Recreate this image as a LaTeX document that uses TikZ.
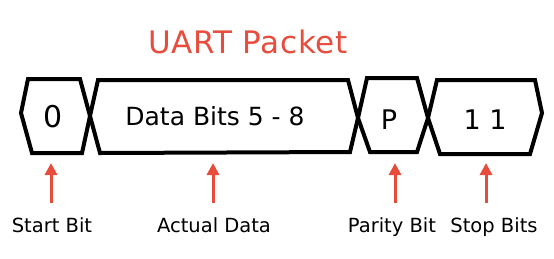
\documentclass[tikz,border=0pt]{standalone}
\usepackage{fontspec}
\setmainfont{DejaVu Sans}
\newfontfamily\titlefont[LetterSpace=2.3]{DejaVu Sans}
\usetikzlibrary{arrows.meta,positioning}
\definecolor{packetred}{RGB}{231,76,60}

\begin{document}
\begin{tikzpicture}[x=1pt,y=-1pt,
    frame/.style={line width=4pt,black},
    pointer/.style={packetred,line width=3pt,-{Triangle[width=12pt,length=12pt]},shorten <=14pt},
    bitlabel/.style={font=\fontsize{19.5}{23}\selectfont,inner sep=0pt,anchor=base}]
    \useasboundingbox (0,0) rectangle (554,258);
    % title
    \node[packetred,font=\titlefont\fontsize{31}{36}\selectfont,inner sep=0pt] (title) at (248,42) {UART Packet};
    % frames of the packet
    \draw[frame] (28,79) -- (80,79) -- (90,116) -- (82,153) -- (32,153) -- (21,113) -- cycle;
    \draw[frame] (98,80) -- (348,80) -- (358,118) -- (350,152) -- (100,153) -- (90,116) -- cycle;
    \draw[frame] (367,78) -- (417,78) -- (428,118) -- (417,152) -- (370,152) -- (358,118) -- cycle;
    \draw[frame] (437,80) -- (535,80) -- (542,113) -- (530,154) -- (440,154) -- (428,118) -- cycle;
    % values in the frames
    \node[inner sep=0pt,font=\fontsize{30}{36}\selectfont] (startval) at (53,117) {0};
    \node[inner sep=0pt,font=\fontsize{25}{30}\selectfont] (dataval) at (215,116) {Data Bits 5 - 8};
    \node[inner sep=0pt,font=\fontsize{27}{32}\selectfont] (parityval) at (389,120) {P};
    \node[inner sep=0pt,font=\fontsize{27}{32}\selectfont] (stopval) at (485,120) {1 1};
    % labels below
    \node[bitlabel] (startlbl) at (52,232) {Start Bit};
    \node[bitlabel] (datalbl) at (214,232) {Actual Data};
    \node[bitlabel] (paritylbl) at (392,232) {Parity Bit};
    \node[bitlabel] (stoplbl) at (494,232) {Stop Bits};
    % pointers up to the frames
    \coordinate (starttip) at (51,163);
    \coordinate (datatip) at (213,163);
    \coordinate (paritytip) at (395,163);
    \coordinate (stoptip) at (486,163);
    \draw[pointer] (startlbl.north -| starttip) -- (starttip);
    \draw[pointer] (datalbl.north -| datatip) -- (datatip);
    \draw[pointer] (paritylbl.north -| paritytip) -- (paritytip);
    \draw[pointer] (stoplbl.north -| stoptip) -- (stoptip);
\end{tikzpicture}
\end{document}
